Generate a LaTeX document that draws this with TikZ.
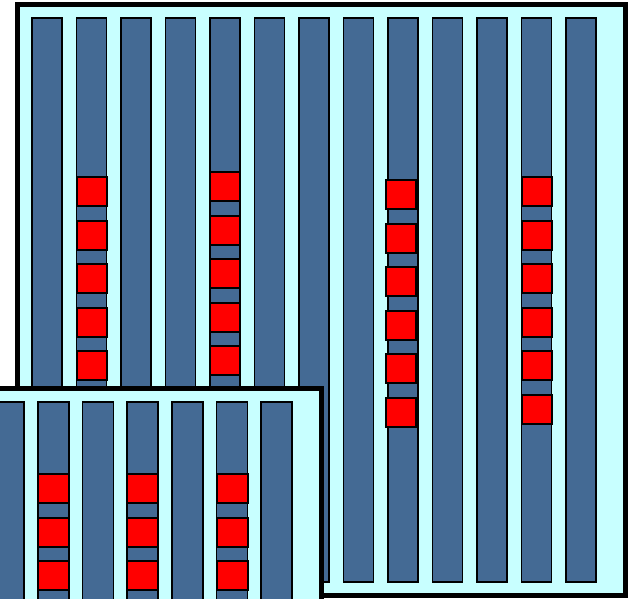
\documentclass[tikz,border=0pt]{standalone}
\definecolor{stripblue}{RGB}{68,106,148}
\definecolor{panelcyan}{RGB}{200,255,255}
\begin{document}
\begin{tikzpicture}[x=1pt,y=-1pt,panel/.style={draw,line width=5pt,fill=panelcyan},strip/.style={draw,line width=1.6pt,fill=stripblue},cell/.style={draw,line width=2pt,fill=red}]
\useasboundingbox (0,0) rectangle (631,598);
\clip (0,0) rectangle (631,598);
% large panel
\draw[panel] (17.5,4.5) rectangle (625.5,595.5);
\foreach \i in {0,...,12} \draw[strip] ({32+44.5*\i},18) rectangle ++(30,564);
\foreach \x/\y/\n in {76.5/177/5,209.5/172/5,386/180/6,521.5/177/6}
  \foreach \k in {1,...,\n} \draw[cell] (\x,{\y+43.6*(\k-1)}) rectangle ++(30,29);
% small panel
\draw[panel] (-10,388.5) rectangle (321.5,620);
\foreach \j in {0,...,6} \draw[strip] ({-7+44.7*\j},402) rectangle ++(31,220);
\foreach \x in {37.7,127.1,216.5}
  \foreach \k in {1,...,4} \draw[cell] (\x,{474+43.5*(\k-1)}) rectangle ++(31,29);
\end{tikzpicture}
\end{document}
